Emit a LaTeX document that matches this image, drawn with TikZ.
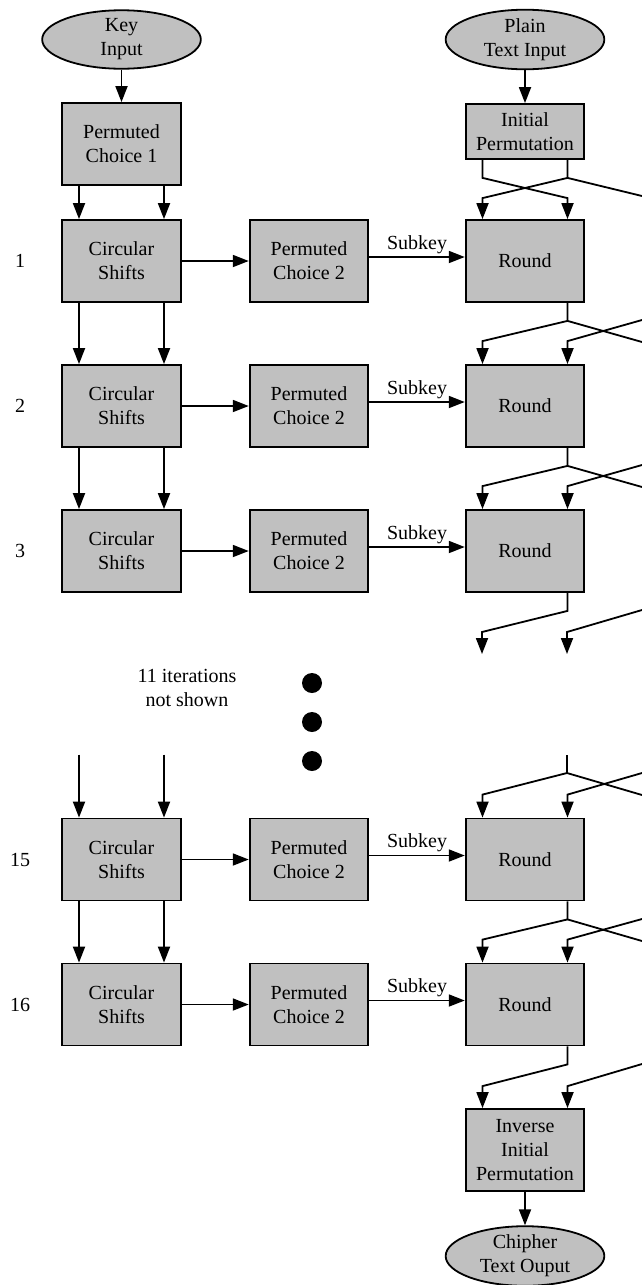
\documentclass[tikz,border=0pt]{standalone}
\usepackage{fontspec}
\setmainfont{Liberation Serif}
\usetikzlibrary{arrows.meta,calc,shapes.geometric}
\definecolor{boxgray}{RGB}{192,192,192}
\begin{document}
\begin{tikzpicture}[x=0.75pt,y=-0.75pt,
  txt/.style={font=\fontsize{15pt}{18pt}\selectfont,text=black,align=center},
  box/.style={txt,draw=black,fill=boxgray,line width=1.35pt,minimum width=89pt,minimum height=61.5pt,inner sep=0pt},
  oval/.style={txt,ellipse,draw=black,fill=boxgray,line width=1.35pt,minimum width=119pt,minimum height=42pt,inner sep=0pt},
  conn/.style={line width=1.35pt,-{Triangle[length=12pt,width=9pt]}},
  wire/.style={line width=1.35pt},
  dot/.style={circle,fill=black,minimum size=15pt,inner sep=0pt}]
\useasboundingbox (0,0) rectangle (642,1285);

% inputs
\node[oval] (key) at (121.5,39.5) {Key\\Input};
\node[box] (pc1) at (121.5,144) {Permuted\\Choice 1};
\node[oval] (pti) at (525,39.5) {Plain\\Text Input};
\node[box,minimum height=41.25pt] (ip) at (525,131.5) {Initial\\Permutation};
\draw[conn] (key) -- (pc1);
\draw[conn] (pti) -- (ip);

% rows
\foreach \n/\y in {1/261,2/406,3/551,15/859.5,16/1004.5}{
  \node[box] (cs\n) at (121.5,\y) {Circular\\Shifts};
  \node[box] (pcb\n) at (309,\y) {Permuted\\Choice 2};
  \node[box] (rd\n) at (525,\y) {Round};
  \node[txt] (num\n) at (20,\y) {\n};
  \draw[conn] (cs\n.east) -- (pcb\n.west);
  \draw[conn] ($(pcb\n.east)+(0,-4)$) -- node[txt,above,inner sep=2pt] (sk\n) {Subkey} ($(rd\n.west)+(0,-4)$);
}

% key schedule vertical arrows
\foreach \d in {-42.5,42.5}{
  \draw[conn] ($(pc1.south)+(\d,0)$) -- ($(cs1.north)+(\d,0)$);
  \draw[conn] ($(cs1.south)+(\d,0)$) -- ($(cs2.north)+(\d,0)$);
  \draw[conn] ($(cs2.south)+(\d,0)$) -- ($(cs3.north)+(\d,0)$);
  \draw[conn] ($(cs15.north)+(\d,-63)$) -- ($(cs15.north)+(\d,0)$);
  \draw[conn] ($(cs15.south)+(\d,0)$) -- ($(cs16.north)+(\d,0)$);
}

% dots and note
\node[txt] (note) at (187,688) {11 iterations\\not shown};
\node[dot] (dot1) at (312,683) {};
\node[dot] (dot2) at (312,722) {};
\node[dot] (dot3) at (312,761) {};

% right-edge coordinates
\coordinate (e0) at (642,196);
\coordinate (in1) at (642,320);
\coordinate (out1) at (642,342);
\coordinate (in2) at (642,465);
\coordinate (out2) at (642,487);
\coordinate (in3) at (642,610);
\coordinate (in14) at (642,773);
\coordinate (out14) at (642,795);
\coordinate (in15) at (642,919);
\coordinate (out15) at (642,941);
\coordinate (in16) at (642,1064);
\coordinate (end3a) at (482,654);
\coordinate (end3b) at (567,654);
\coordinate (top15) at (567,755);

% after initial permutation
\draw[conn] ($(ip.south)+(-42.5,0)$) -- ++(0,18) -- ($(rd1.north)+(42.5,-21)$) -- ($(rd1.north)+(42.5,0)$);
\draw[conn] ($(ip.south)+(42.5,0)$) -- ++(0,18) -- ($(rd1.north)+(-42.5,-21)$) -- ($(rd1.north)+(-42.5,0)$);
\draw[wire] ($(ip.south)+(42.5,18)$) -- (e0);

% round 1 -> 2
\draw[conn] ($(rd1.south)+(42.5,0)$) -- ++(0,18) -- ($(rd2.north)+(-42.5,-23)$) -- ($(rd2.north)+(-42.5,0)$);
\draw[conn] (in1) -- ($(rd2.north)+(42.5,-23)$) -- ($(rd2.north)+(42.5,0)$);
\draw[wire] ($(rd1.south)+(42.5,18)$) -- (out1);

% round 2 -> 3
\draw[conn] ($(rd2.south)+(42.5,0)$) -- ++(0,18) -- ($(rd3.north)+(-42.5,-23)$) -- ($(rd3.north)+(-42.5,0)$);
\draw[conn] (in2) -- ($(rd3.north)+(42.5,-23)$) -- ($(rd3.north)+(42.5,0)$);
\draw[wire] ($(rd2.south)+(42.5,18)$) -- (out2);

% after round 3
\draw[conn] ($(rd3.south)+(42.5,0)$) -- ++(0,18) -- ($(end3a)+(0,-22)$) -- (end3a);
\draw[conn] (in3) -- ($(end3b)+(0,-22)$) -- (end3b);

% before round 15
\draw[conn] (top15) -- ++(0,18) -- ($(rd15.north)+(-42.5,-23)$) -- ($(rd15.north)+(-42.5,0)$);
\draw[conn] (in14) -- ($(rd15.north)+(42.5,-23)$) -- ($(rd15.north)+(42.5,0)$);
\draw[wire] ($(top15)+(0,18)$) -- (out14);

% round 15 -> 16
\draw[conn] ($(rd15.south)+(42.5,0)$) -- ++(0,18) -- ($(rd16.north)+(-42.5,-23)$) -- ($(rd16.north)+(-42.5,0)$);
\draw[conn] (in15) -- ($(rd16.north)+(42.5,-23)$) -- ($(rd16.north)+(42.5,0)$);
\draw[wire] ($(rd15.south)+(42.5,18)$) -- (out15);

% output
\node[box] (iip) at (525,1150) {Inverse\\Initial\\Permutation};
\node[oval] (cto) at (525,1256) {Chipher\\Text Ouput};
\draw[conn] ($(rd16.south)+(42.5,0)$) -- ++(0,18) -- ($(iip.north)+(-42.5,-22)$) -- ($(iip.north)+(-42.5,0)$);
\draw[conn] (in16) -- ($(iip.north)+(42.5,-22)$) -- ($(iip.north)+(42.5,0)$);
\draw[conn] (iip) -- (cto);
\end{tikzpicture}
\end{document}
